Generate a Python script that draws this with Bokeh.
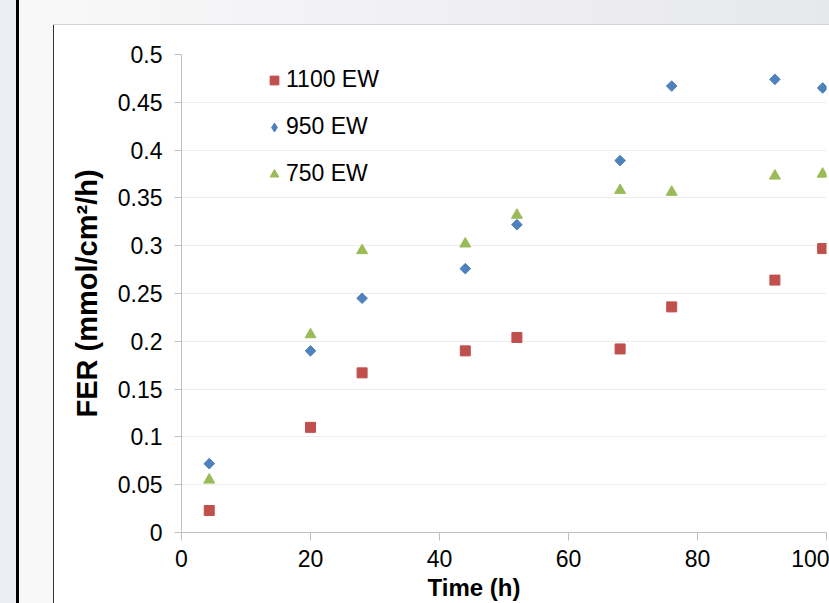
import numpy as np
from bokeh.plotting import figure
from bokeh.models import FixedTicker, Legend, LegendItem, Div, Range1d
from bokeh.layouts import row, column
from bokeh.embed import file_html
from bokeh.resources import INLINE

# ---- data ----
time_h = [4.3, 20, 28, 44, 52, 68, 76, 92, 99.4]
fer_1100 = [0.023, 0.110, 0.167, 0.190, 0.204, 0.192, 0.236, 0.264, 0.297]
fer_950 = [0.072, 0.190, 0.245, 0.276, 0.322, 0.389, 0.467, 0.474, 0.465]
fer_750 = [0.055, 0.207, 0.295, 0.302, 0.332, 0.358, 0.356, 0.373, 0.375]
series_names = ["1100 EW", "950 EW", "750 EW"]
x_ticks = [0, 20, 40, 60, 80, 100]
y_ticks = [0, 0.05, 0.1, 0.15, 0.2, 0.25, 0.3, 0.35, 0.4, 0.45, 0.5]
y_tick_labels = ["0", "0.05", "0.1", "0.15", "0.2", "0.25", "0.3", "0.35", "0.4", "0.45", "0.5"]
x_title = "Time (h)"
y_title = "FER (mmol/cm\u00b2/h)"

FONT = "Liberation Sans"
AXIS_COL = "#bfbfbf"
RED, BLUE, GREEN = "#c0504d", "#4f81bd", "#9bbb59"

p = figure(width=775, height=578, x_range=Range1d(0, 100), y_range=Range1d(0, 0.5),
           output_backend="svg", toolbar_location=None,
           min_border_left=127, min_border_right=3, min_border_top=29, min_border_bottom=70)
p.outline_line_color = None
p.background_fill_color = "white"
p.border_fill_color = "white"

r1 = p.scatter(time_h, fer_1100, marker="square", size=10, color=RED)
r2 = p.scatter(time_h, fer_950, marker="square", angle=np.pi / 4, size=7.5, color=BLUE)
r3 = p.scatter(time_h, fer_750, marker="triangle", size=11, color=GREEN)
# legend-only renderer for the diamond symbol (hidden in the plot)
r2_leg = p.scatter(time_h, fer_950, marker="diamond", color=BLUE, visible=False)

# axes
p.xgrid.visible = False
p.ygrid.grid_line_color = "#ededed"
p.ygrid.ticker = FixedTicker(ticks=y_ticks)

xa = p.xaxis[0]
xa.ticker = FixedTicker(ticks=x_ticks)
xa.axis_line_color = AXIS_COL
xa.major_tick_line_color = AXIS_COL
xa.major_tick_out = 8
xa.major_tick_in = 0
xa.minor_tick_line_color = None
xa.major_label_text_font = FONT
xa.major_label_text_font_size = "23px"
xa.major_label_text_color = "black"
xa.major_label_standoff = 9
# title sits left of the frame centre in the reference: pad with no-break spaces
xa.axis_label = x_title + "\u00a0" * 9
xa.axis_label_text_font = FONT
xa.axis_label_text_font_size = "24px"
xa.axis_label_text_font_style = "bold"
xa.axis_label_text_color = "black"
xa.axis_label_standoff = 4

ya = p.yaxis[0]
ya.ticker = FixedTicker(ticks=y_ticks)
ya.major_label_overrides = {t: l for t, l in zip(y_ticks, y_tick_labels)}
ya.axis_line_color = AXIS_COL
ya.major_tick_line_color = AXIS_COL
ya.major_tick_out = 7
ya.major_tick_in = 0
ya.minor_tick_line_color = None
ya.major_label_text_font = FONT
ya.major_label_text_font_size = "23px"
ya.major_label_text_color = "black"
ya.major_label_standoff = 12
ya.axis_label = y_title
ya.axis_label_text_font = FONT
ya.axis_label_text_font_size = "29px"
ya.axis_label_text_font_style = "bold"
ya.axis_label_text_color = "black"
ya.axis_label_standoff = 12

legend = Legend(items=[LegendItem(label=series_names[0], renderers=[r1]),
                       LegendItem(label=series_names[1], renderers=[r2_leg]),
                       LegendItem(label=series_names[2], renderers=[r3])],
                location=(82, 345), orientation="vertical",
                border_line_color=None, background_fill_alpha=0,
                padding=0, margin=0, spacing=20,
                glyph_width=22, glyph_height=26, label_height=26, label_standoff=1,
                label_text_font=FONT, label_text_font_size="23px", label_text_color="black")
p.add_layout(legend)

# decorative frame around the panel
left_div = Div(text="", width=53, height=603, margin=0,
               styles={"background": "linear-gradient(to right, #eceef3 0px, #eceef3 16px, #000 16px, #000 19px, #f8f8f9 19px, #f8f8f9 53px)"})
top_div = Div(text="", width=776, height=25, margin=0,
              styles={"background": "linear-gradient(to bottom, rgba(0,0,0,0) 24px, #d2d2d2 24px), linear-gradient(to right, #f8f8f9, #e7e8ec)"})
line_div = Div(text="", width=1, height=578, margin=0, styles={"background": "#333333"})

layout = row(left_div, column(top_div, row(line_div, p, spacing=0), spacing=0), spacing=0)

open("out.html", "w").write(file_html(layout, INLINE))
